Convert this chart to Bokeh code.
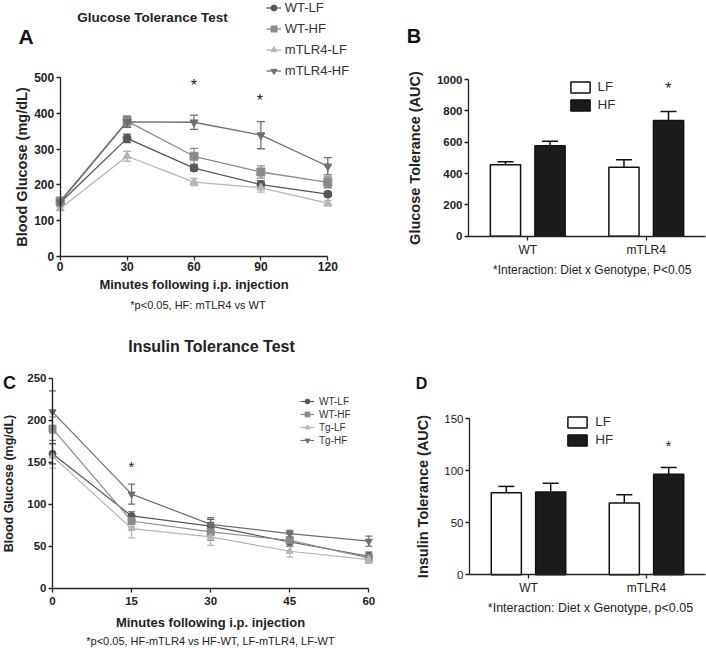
import numpy as np
from bokeh.plotting import figure
from bokeh.models import (ColumnDataSource, Range1d, FixedTicker, Whisker, TeeHead,
                          Label, Legend, LegendItem, LinearAxis)
from bokeh.embed import file_html
from bokeh.resources import INLINE

FONT = "Liberation Sans"

# ---------------- data ----------------
# Glucose tolerance test (panel A)
gtt_minutes = [0, 30, 60, 90, 120]
gtt_labels = ["WT-LF", "WT-HF", "mTLR4-LF", "mTLR4-HF"]
gtt_wt_lf = [150, 330, 247, 201, 174]
gtt_wt_lf_sem = [5, 12, 8, 10, 6]
gtt_wt_hf = [155, 378, 280, 236, 207]
gtt_wt_hf_sem = [6, 14, 22, 17, 15]
gtt_tg_lf = [134, 280, 208, 192, 149]
gtt_tg_lf_sem = [5, 14, 10, 12, 8]
gtt_tg_hf = [152, 376, 375, 339, 252]
gtt_tg_hf_sem = [6, 15, 20, 38, 24]
gtt_sig_minutes = [60, 90]
gtt_yticks = [0, 100, 200, 300, 400, 500]

# Insulin tolerance test (panel C)
itt_minutes = [0, 15, 30, 45, 60]
itt_labels = ["WT-LF", "WT-HF", "Tg-LF", "Tg-HF"]
itt_wt_lf = [160, 86, 74, 55, 38]
itt_wt_lf_sem = [12, 5, 8, 5, 5]
itt_wt_hf = [190, 80, 67, 57, 36]
itt_wt_hf_sem = [14, 7, 10, 7, 6]
itt_tg_lf = [157, 71, 61, 44, 34]
itt_tg_lf_sem = [14, 11, 10, 7, 4]
itt_tg_hf = [210, 112, 76, 65, 56]
itt_tg_hf_sem = [25, 12, 8, 4, 6]
itt_sig_minutes = [15]
itt_yticks = [0, 50, 100, 150, 200, 250]

# Area under the curve (panels B and D)
genotypes = ["WT", "mTLR4"]
diets = ["LF", "HF"]
gtt_auc_lf = [456, 440]
gtt_auc_lf_sem = [19, 48]
gtt_auc_hf = [577, 738]
gtt_auc_hf_sem = [29, 58]
gtt_auc_yticks = [0, 200, 400, 600, 800, 1000]
itt_auc_lf = [79, 69]
itt_auc_lf_sem = [6, 8]
itt_auc_hf = [79.5, 96.7]
itt_auc_hf_sem = [8.5, 6.5]
itt_auc_yticks = [0, 50, 100, 150]
auc_sig_genotype = "mTLR4"

# ---------------- style ----------------
series_colors = ["#575757", "#8a8a8a", "#b5b5b5", "#6e6e6e"]
series_markers = ["circle", "square", "triangle", "inverted_triangle"]
AX = "#222222"
W, H = 706, 648

# One canvas; the frame covers it all. Default ranges = canvas pixels (y down),
# each panel gets its own named ranges.
p = figure(width=W, height=H, x_range=Range1d(0, W), y_range=Range1d(H, 0),
           x_axis_type=None, y_axis_type=None, output_backend="svg",
           toolbar_location=None, min_border=0)
p.outline_line_color = None
p.background_fill_color = "white"
p.border_fill_color = "white"


def x_range_for(a, pa, b, pb):
    k = (pb - pa) / (b - a)
    return Range1d(a - pa / k, a + (W - pa) / k)


def y_range_for(a, pa, b, pb):
    k = (pa - pb) / (b - a)
    return Range1d(a - (H - pa) / k, a + pa / k)


p.extra_x_ranges = {
    "A": x_range_for(0, 59.7, 120, 327.3),
    "B": x_range_for(0.5, 468, 2.5, 705),
    "C": x_range_for(0, 52, 60, 368.3),
    "D": x_range_for(0.5, 469, 2.5, 705),
}
p.extra_y_ranges = {
    "A": y_range_for(0, 256, 500, 77),
    "B": y_range_for(0, 235.7, 1000, 79),
    "C": y_range_for(0, 587.7, 250, 377.7),
    "D": y_range_for(0, 574.3, 150, 418.3),
}


def add_text(px, py, text, size, bold=False, color="#222222"):
    p.add_layout(Label(x=px, y=py, text=text, text_font=FONT,
                       text_font_size=f"{size}px",
                       text_font_style="bold" if bold else "normal",
                       text_align="center", text_baseline="middle",
                       text_color=color))


def add_star(px, py, size):
    add_text(px, py + 0.22 * size, "*", size)


def make_axis(name, dim, loc, bounds, ticks, fs, bold, stand, label="", label_fs=13,
              label_stand=2):
    ax = LinearAxis(x_range_name=name, y_range_name=name, fixed_location=loc,
                    bounds=bounds, ticker=FixedTicker(ticks=ticks))
    ax.axis_line_color = AX
    ax.axis_line_width = 1.3
    ax.major_tick_line_color = AX
    ax.major_tick_line_width = 1.3
    ax.major_tick_in = 0
    ax.major_tick_out = 4
    ax.minor_tick_line_color = None
    ax.major_label_text_font = FONT
    ax.major_label_text_color = AX
    ax.major_label_text_font_size = f"{fs}px"
    ax.major_label_text_font_style = "bold" if bold else "normal"
    ax.major_label_standoff = stand
    if label:
        ax.axis_label = label
        ax.axis_label_text_font = FONT
        ax.axis_label_text_font_style = "bold"
        ax.axis_label_text_color = AX
        ax.axis_label_text_font_size = f"{label_fs}px"
        ax.axis_label_standoff = label_stand
    p.add_layout(ax, "below" if dim == "x" else "left")
    return ax


def draw_lines(name, minutes, series, sems, labels, msize, lw, cap):
    items = []
    for vals, sem, lab, col, mk in zip(series, sems, labels, series_colors, series_markers):
        src = ColumnDataSource(dict(x=minutes, y=vals,
                                    lo=[v - s for v, s in zip(vals, sem)],
                                    hi=[v + s for v, s in zip(vals, sem)]))
        p.add_layout(Whisker(source=src, base="x", upper="hi", lower="lo", dimension="height",
                             x_range_name=name, y_range_name=name,
                             line_color=col, line_width=lw,
                             upper_head=TeeHead(size=cap, line_color=col, line_width=lw),
                             lower_head=TeeHead(size=cap, line_color=col, line_width=lw)))
        r1 = p.line("x", "y", source=src, line_color=col, line_width=lw,
                    x_range_name=name, y_range_name=name)
        r2 = p.scatter("x", "y", source=src, marker=mk, size=msize,
                       fill_color=col, line_color=col,
                       x_range_name=name, y_range_name=name)
        items.append(LegendItem(label=lab, renderers=[r1, r2]))
    return items


BAR_OFF = 0.188
BAR_W = 0.255


def draw_bars(name, lf, lf_sem, hf, hf_sem, cap):
    pos = np.arange(1, len(genotypes) + 1)
    items = []
    for off, vals, sem, fill, lab in [(-BAR_OFF, lf, lf_sem, "white", diets[0]),
                                      (BAR_OFF, hf, hf_sem, "#1c1c1c", diets[1])]:
        src = ColumnDataSource(dict(x=pos + off, top=vals,
                                    hi=[v + s for v, s in zip(vals, sem)]))
        p.add_layout(Whisker(source=src, base="x", upper="hi", lower="top", dimension="height",
                             x_range_name=name, y_range_name=name,
                             line_color="#111111", line_width=1.5,
                             upper_head=TeeHead(size=cap, line_color="#111111", line_width=1.5),
                             lower_head=None))
        r = p.vbar(x="x", top="top", bottom=0, width=BAR_W, source=src,
                   fill_color=fill, line_color="#111111", line_width=1.5,
                   x_range_name=name, y_range_name=name)
        items.append(LegendItem(label=lab, renderers=[r]))
    return items, pos


def make_legend(items, loc, gw, gh, lh, spacing, fs, standoff):
    p.add_layout(Legend(items=items, location=loc, orientation="vertical",
                        glyph_width=gw, glyph_height=gh, label_height=lh, spacing=spacing,
                        padding=0, margin=0, border_line_color=None, background_fill_alpha=0,
                        label_text_font=FONT, label_text_font_size=f"{fs}px",
                        label_standoff=standoff, label_text_color="#333333"))


# ---------------- panel A ----------------
itemsA = draw_lines("A", gtt_minutes, [gtt_wt_lf, gtt_wt_hf, gtt_tg_lf, gtt_tg_hf],
                    [gtt_wt_lf_sem, gtt_wt_hf_sem, gtt_tg_lf_sem, gtt_tg_hf_sem],
                    gtt_labels, 8, 1.3, 8)
make_axis("A", "y", 0, (0, 500), gtt_yticks, 12, True, 2,
          "Blood Glucose (mg/dL)", 14.5, 1)
make_axis("A", "x", 0, (0, 120), gtt_minutes, 12, True, 1,
          "Minutes following i.p. injection", 13, 3)
make_legend(itemsA, (265.8, H - 78), 15, 15, 15, 6, 13, 4)
add_text(25.5, 36, "A", 21, bold=True, color="#111111")
add_text(152, 17, "Glucose Tolerance Test", 13.5, bold=True)
add_text(197.5, 304, "*p<0.05, HF: mTLR4 vs WT", 11)
add_star(193.3, 81.7, 16)   # above minute 60
add_star(259.3, 96.7, 16)   # above minute 90

# ---------------- panel B ----------------
itemsB, posB = draw_bars("B", gtt_auc_lf, gtt_auc_lf_sem, gtt_auc_hf, gtt_auc_hf_sem, 16)
make_axis("B", "y", 0.5, (0, 1000), gtt_auc_yticks, 11.5, True, 2,
          "Glucose Tolerance (AUC)", 14.5, 11)
axB = make_axis("B", "x", 0, (0.5, 2.5), list(posB), 12, False, 3)
axB.major_label_overrides = {int(i): g for i, g in zip(posB, genotypes)}
make_legend(itemsB, (567.6, H - 112.6), 24, 14, 16, 2, 13.5, 6)
add_text(413.5, 35.5, "B", 20, bold=True, color="#111111")
add_text(591.7, 269, "*Interaction: Diet x Genotype, P<0.05", 12)
add_star(667.8, 84, 16)

# ---------------- panel C ----------------
itemsC = draw_lines("C", itt_minutes, [itt_wt_lf, itt_wt_hf, itt_tg_lf, itt_tg_hf],
                    [itt_wt_lf_sem, itt_wt_hf_sem, itt_tg_lf_sem, itt_tg_hf_sem],
                    itt_labels, 7, 1.2, 7)
make_axis("C", "y", 0, (0, 250), itt_yticks, 11.5, True, 2,
          "Blood Glucose (mg/dL)", 12.5, 8)
make_axis("C", "x", 0, (0, 60), itt_minutes, 11.5, True, 5,
          "Minutes following i.p. injection", 13, 6)
make_legend(itemsC, (300, H - 446), 14, 12, 12, 1, 10, 5)
add_text(9, 382.5, "C", 18, bold=True, color="#111111")
add_text(211, 346, "Insulin Tolerance Test", 16, bold=True)
add_text(210, 640.5, "*p<0.05, HF-mTLR4 vs HF-WT, LF-mTLR4, LF-WT", 11)
add_star(131, 463, 15)      # above minute 15

# ---------------- panel D ----------------
itemsD, posD = draw_bars("D", itt_auc_lf, itt_auc_lf_sem, itt_auc_hf, itt_auc_hf_sem, 16)
make_axis("D", "y", 0.5, (0, 150), itt_auc_yticks, 11.5, False, 2,
          "Insulin Tolerance (AUC)", 14.5, 10)
axD = make_axis("D", "x", 0, (0.5, 2.5), list(posD), 12, False, 2)
axD.major_label_overrides = {int(i): g for i, g in zip(posD, genotypes)}
make_legend(itemsD, (565.3, H - 447.6), 24, 14, 16, 2, 13.5, 6)
add_text(421, 382.5, "D", 16, bold=True, color="#111111")
add_text(590, 607, "*Interaction: Diet x Genotype, p<0.05", 12.5)
add_star(668, 441.7, 15)

open("out.html", "w").write(file_html(p, INLINE))
